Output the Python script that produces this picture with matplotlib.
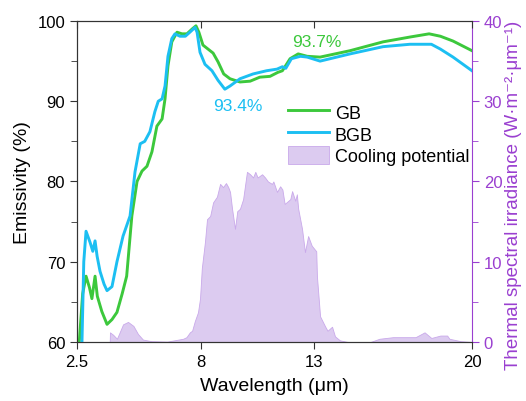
import matplotlib
matplotlib.use("Agg")
import matplotlib.pyplot as plt
from matplotlib.ticker import MultipleLocator

plt.rcParams['font.family'] = ['Liberation Sans', 'DejaVu Sans']

# Emissivity spectra (%)
gb_wl = [2.6, 2.75, 2.9, 3.05, 3.16, 3.3, 3.4, 3.6, 3.83, 4.05, 4.27, 4.5, 4.7, 4.93,
         5.16, 5.38, 5.6, 5.82, 6.04, 6.27, 6.4, 6.53, 6.7, 6.93, 7.15, 7.37, 7.6, 7.77,
         7.9, 8.08, 8.26, 8.53, 8.75, 9.0, 9.28, 9.72, 10.17, 10.6, 11.05, 11.4, 11.6,
         11.94, 12.3, 12.7, 13.27, 14.6, 16.06, 17.25, 18.1, 18.6, 19.16, 20.0]
gb_em = [60.0, 66.0, 68.2, 66.8, 65.4, 68.2, 65.7, 63.8, 62.2, 62.8, 63.7, 66.0, 68.2, 75.7,
         80.0, 81.3, 81.9, 83.7, 86.9, 87.8, 90.3, 94.4, 97.4, 98.6, 98.4, 98.4, 99.0, 99.4,
         98.6, 97.0, 96.6, 96.0, 94.9, 93.4, 92.8, 92.4, 92.5, 93.0, 93.1, 93.6, 93.8,
         95.3, 95.9, 95.6, 95.5, 96.3, 97.4, 98.0, 98.4, 98.1, 97.5, 96.3]

bgb_wl = [2.72, 2.8, 2.9, 3.08, 3.2, 3.3, 3.39, 3.52, 3.7, 3.83, 4.05, 4.27, 4.54, 4.85,
          5.07, 5.3, 5.5, 5.73, 5.95, 6.1, 6.27, 6.4, 6.53, 6.7, 6.84, 7.06, 7.3, 7.5,
          7.73, 7.82, 7.95, 8.17, 8.48, 8.75, 9.05, 9.28, 9.72, 10.3, 10.9, 11.36, 11.6,
          11.75, 12.0, 12.4, 12.7, 13.27, 14.6, 16.06, 17.25, 18.2, 18.6, 19.16, 20.0]
bgb_em = [60.0, 70.0, 73.8, 72.4, 71.3, 72.6, 70.7, 68.8, 67.2, 66.4, 66.9, 70.0, 73.2, 75.7,
          81.2, 84.7, 85.0, 86.2, 88.7, 90.0, 90.3, 91.9, 95.6, 97.8, 98.4, 98.1, 98.1, 98.6,
          99.2, 98.6, 96.1, 94.6, 93.8, 92.6, 91.5, 91.9, 92.8, 93.4, 93.8, 94.0, 94.3,
          94.1, 95.3, 95.6, 95.5, 95.0, 95.9, 96.8, 97.1, 97.1, 96.5, 95.5, 93.8]

# Cooling potential (W·m^-2·μm^-1)
cp_wl = [3.95, 3.96, 4.1, 4.27, 4.54, 4.76, 5.0, 5.2, 5.42, 5.8, 6.5, 7.2, 7.35, 7.5, 7.6,
         7.72, 7.86, 7.95, 8.03, 8.17, 8.26, 8.4, 8.53, 8.7, 8.84, 8.97, 9.1, 9.2, 9.28,
         9.37, 9.5, 9.6, 9.72, 9.86, 10.03, 10.17, 10.3, 10.4, 10.5, 10.7, 10.83, 10.96,
         11.14, 11.2, 11.36, 11.5, 11.6, 11.7, 11.95, 12.03, 12.17, 12.24, 12.3, 12.47,
         12.6, 12.74, 12.9, 13.1, 13.13, 13.27, 13.5, 13.6, 13.8, 13.93, 14.15, 14.5,
         15.5, 15.9, 16.5, 17.5, 17.9, 18.2, 18.6, 18.9, 19.0, 19.5, 20.0]
cp_val = [0.0, 1.2, 0.9, 0.4, 2.2, 2.5, 2.0, 1.0, 0.3, 0.1, 0.05, 0.4, 0.6, 1.2, 1.4,
          2.6, 3.7, 5.4, 9.2, 12.5, 15.3, 15.7, 17.4, 18.1, 19.7, 19.3, 19.8, 19.3, 18.7,
          16.6, 14.1, 16.3, 16.6, 17.8, 21.2, 20.9, 20.5, 21.2, 20.5, 20.9, 20.5, 20.0,
          19.7, 20.0, 18.7, 19.4, 19.0, 17.2, 17.8, 18.8, 17.6, 18.4, 16.6, 14.1,
          11.2, 13.2, 12.0, 11.3, 8.2, 3.2, 1.9, 1.4, 1.9, 0.7, 0.2, 0.0,
          0.0, 0.4, 0.6, 0.6, 1.2, 0.5, 0.8, 0.8, 0.4, 0.1, 0.0]

x_ticks = [2.5, 8, 13, 20]
x_ticklabels = ['2.5', '8', '13', '20']

green = '#3cc83c'
blue = '#1cbff2'
purple = '#9a3fd0'
fill_c = '#dccbf0'

fig = plt.figure(figsize=(5.26, 4.02), dpi=100)
ax = fig.add_axes([0.1464, 0.1468, 0.7509, 0.7985])
ax2 = ax.twinx()

ax2.fill_between(cp_wl, cp_val, 0, color=fill_c, edgecolor='#c9a9ea', linewidth=0.6,
                 label='Cooling potential')
ax2.set_ylim(0, 40)

l1, = ax.plot(gb_wl, gb_em, color=green, lw=2.1, label='GB', solid_joinstyle='round')
l2, = ax.plot(bgb_wl, bgb_em, color=blue, lw=2.1, label='BGB', solid_joinstyle='round')
ax.set_zorder(ax2.get_zorder() + 1)
ax.patch.set_visible(False)

ax.set_xlim(2.5, 20)
ax.set_ylim(60, 100)
ax.set_xticks(x_ticks)
ax.set_xticklabels(x_ticklabels)
ax.yaxis.set_major_locator(MultipleLocator(10))
ax.yaxis.set_minor_locator(MultipleLocator(5))
ax.tick_params(axis='both', which='both', labelsize=12, direction='out', color='#333333')
ax.tick_params(axis='x', top=True, length=5)
ax.tick_params(axis='y', which='major', length=5)
ax.tick_params(axis='y', which='minor', length=4)
for t in ax.xaxis.get_major_ticks():
    t.tick2line.set_marker(3)  # top ticks point inward
ax.set_xlabel('Wavelength (μm)', fontsize=14, labelpad=6)
ax.set_ylabel('Emissivity (%)', fontsize=14, labelpad=5)

ax2.yaxis.set_major_locator(MultipleLocator(10))
ax2.yaxis.set_minor_locator(MultipleLocator(5))
ax2.tick_params(axis='y', which='both', colors=purple, labelsize=12, direction='out')
ax2.tick_params(axis='y', which='major', length=5)
ax2.tick_params(axis='y', which='minor', length=4)
ax2.spines['right'].set_color(purple)
ax2.set_ylabel('Thermal spectral irradiance (W·m⁻²·μm⁻¹)', color=purple,
               fontsize=13.5, labelpad=2)
ax2.yaxis.label.set_y(0.46)

for sp in ['left', 'bottom', 'top']:
    ax.spines[sp].set_color('#333333')
    ax2.spines[sp].set_color('#333333')
ax.spines['right'].set_visible(False)

ax.text(9.63, 89.5, '93.4%', color=blue, fontsize=12.5, ha='center', va='center')
ax.text(13.13, 97.4, '93.7%', color=green, fontsize=12.5, ha='center', va='center')

handles = [l1, l2] + ax2.get_legend_handles_labels()[0]
labels = ['GB', 'BGB', 'Cooling potential']
ax.legend(handles, labels, loc='center left', bbox_to_anchor=(0.534, 0.648),
          frameon=False, fontsize=13, borderaxespad=0, borderpad=0,
          handlelength=2.3, handleheight=1.2, labelspacing=0.12, handletextpad=0.3)

fig.savefig('out.png', dpi=100)
